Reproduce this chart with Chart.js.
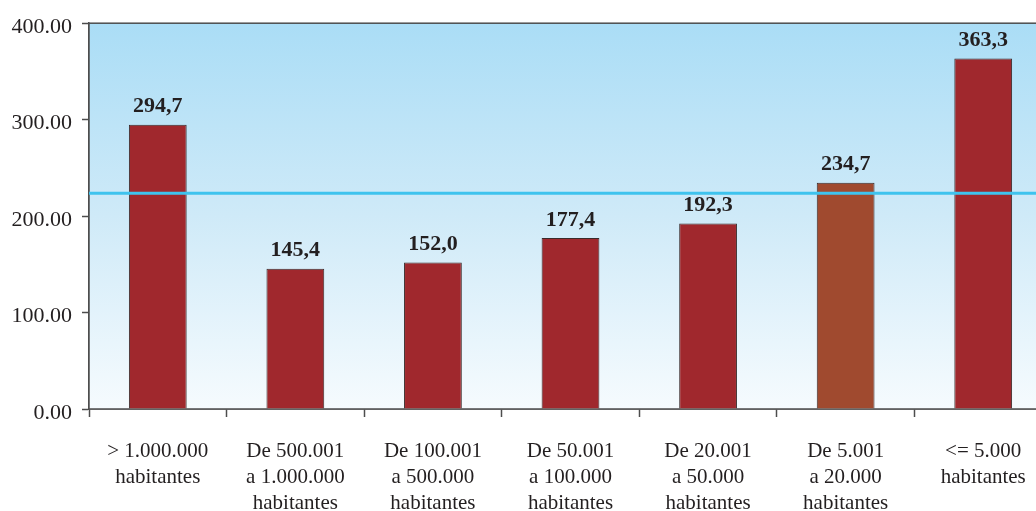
<!DOCTYPE html>
<html>
<head>
<meta charset="utf-8">
<script src="https://cdn.jsdelivr.net/npm/chart.js@4/dist/chart.umd.min.js"></script>
<style>
  html, body { margin: 0; padding: 0; background: #ffffff; overflow: hidden; }
  #wrap { width: 1036px; height: 511px; overflow: hidden; }
</style>
</head>
<body>
<div id="wrap"><canvas id="grafica" width="1052" height="511"></canvas></div>
<script>
// datos
const categorias = [
    ['> 1.000.000', 'habitantes'],
    ['De 500.001', 'a 1.000.000', 'habitantes'],
    ['De 100.001', 'a 500.000', 'habitantes'],
    ['De 50.001', 'a 100.000', 'habitantes'],
    ['De 20.001', 'a 50.000', 'habitantes'],
    ['De 5.001', 'a 20.000', 'habitantes'],
    ['<= 5.000', 'habitantes']
];
const valores = [294.7, 145.4, 152.0, 177.4, 192.3, 234.7, 363.3];
const coloresBarra = ['#A0282D', '#A0282D', '#A0282D', '#A0282D', '#A0282D', '#A04A2F', '#A0282D'];
const media = 223.7;
const ticksY = [0, 100, 200, 300, 400];

const fuente = "'Liberation Serif', 'Times New Roman', serif";
const colorTexto = '#231F20';

// fondo degradado, linea de media, borde y etiquetas de valor
const pluginFondo = {
    id: 'fondo',
    beforeDatasetsDraw(chart) {
        const { ctx, chartArea: a } = chart;
        const g = ctx.createLinearGradient(0, a.top, 0, a.bottom);
        g.addColorStop(0, '#AADDF6');
        g.addColorStop(0.5, '#CFEAF8');
        g.addColorStop(1, '#F6FBFE');
        ctx.save();
        ctx.fillStyle = g;
        ctx.fillRect(a.left, a.top, a.right - a.left, a.bottom - a.top);
        ctx.strokeStyle = '#4D4D4D';
        ctx.lineWidth = 1.5;
        ctx.strokeRect(a.left, a.top, a.right - a.left, a.bottom - a.top);
        ctx.restore();
    },
    afterDatasetsDraw(chart) {
        const { ctx, chartArea: a } = chart;
        const y = chart.scales.y.getPixelForValue(media);
        ctx.save();
        ctx.strokeStyle = '#3EC3EE';
        ctx.lineWidth = 3;
        ctx.beginPath();
        ctx.moveTo(a.left, y);
        ctx.lineTo(a.right, y);
        ctx.stroke();

        ctx.fillStyle = colorTexto;
        ctx.font = 'bold 22px ' + fuente;
        ctx.textAlign = 'center';
        ctx.textBaseline = 'bottom';
        const meta = chart.getDatasetMeta(0);
        meta.data.forEach((bar, i) => {
            ctx.fillText(valores[i].toFixed(1).replace('.', ','), bar.x, bar.y - 7);
        });
        ctx.restore();
    }
};

new Chart(document.getElementById('grafica'), {
    type: 'bar',
    data: {
        labels: categorias,
        datasets: [{
            data: valores,
            backgroundColor: coloresBarra,
            borderColor: '#3A2B2B',
            borderWidth: 1,
            categoryPercentage: 1,
            barPercentage: 0.42
        }]
    },
    options: {
        responsive: false,
        animation: false,
        layout: { padding: { top: 23, right: 0, left: 0, bottom: 0 } },
        plugins: {
            legend: { display: false },
            tooltip: { enabled: false }
        },
        scales: {
            x: {
                afterFit(scale) { scale.height = 102; },
                grid: {
                    offset: true,
                    drawOnChartArea: false,
                    tickLength: 8,
                    tickColor: '#4D4D4D',
                    tickWidth: 1.5
                },
                border: { color: '#4D4D4D', width: 1.5 },
                ticks: {
                    color: colorTexto,
                    font: { family: fuente, size: 21, lineHeight: 1.25 },
                    padding: 21,
                    maxRotation: 0,
                    autoSkip: false
                }
            },
            y: {
                min: 0,
                max: 400,
                afterFit(scale) { scale.width = 89; },
                afterBuildTicks(scale) { scale.ticks = ticksY.map(v => ({ value: v })); },
                grid: {
                    drawOnChartArea: false,
                    tickLength: 7,
                    tickColor: '#4D4D4D',
                    tickWidth: 1.5
                },
                border: { color: '#4D4D4D', width: 1.5 },
                ticks: {
                    color: colorTexto,
                    font: { family: fuente, size: 22 },
                    padding: 10,
                    labelOffset: 4,
                    callback: v => v.toFixed(2)
                }
            }
        }
    },
    plugins: [pluginFondo]
});
</script>
</body>
</html>
